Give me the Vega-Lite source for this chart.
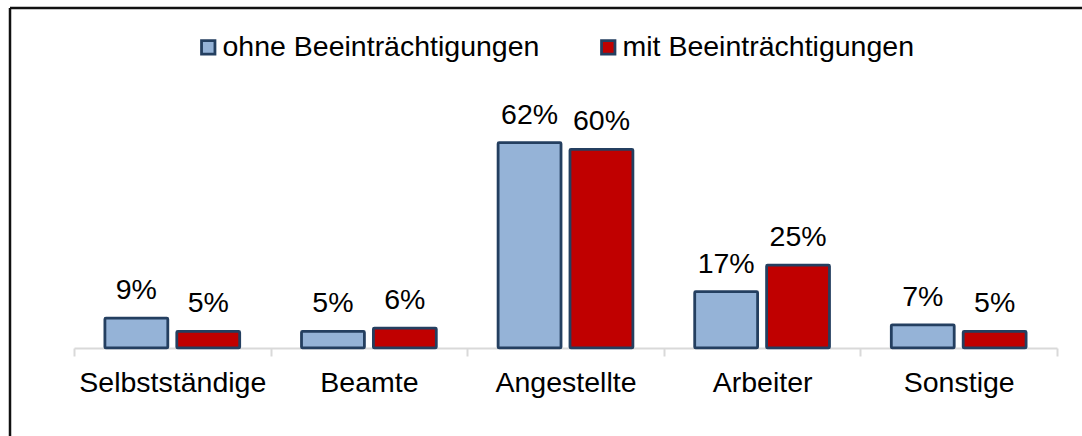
{
  "$schema": "https://vega.github.io/schema/vega-lite/v6.json",
  "width": 1072,
  "height": 428,
  "autosize": "none",
  "padding": {"left": 10, "top": 8, "right": 0, "bottom": 0},
  "background": "white",
  "config": {
    "view": {"stroke": "#111111", "strokeWidth": 2.5, "strokeDash": [1072, 1500, 428, 0]},
    "font": "Liberation Sans",
    "text": {"font": "Liberation Sans"}
  },
  "data": {
    "values": [
      {"kategorie": "Selbstständige", "gruppe": "ohne Beeinträchtigungen", "anteil": 0.09},
      {"kategorie": "Selbstständige", "gruppe": "mit Beeinträchtigungen", "anteil": 0.05},
      {"kategorie": "Beamte", "gruppe": "ohne Beeinträchtigungen", "anteil": 0.05},
      {"kategorie": "Beamte", "gruppe": "mit Beeinträchtigungen", "anteil": 0.06},
      {"kategorie": "Angestellte", "gruppe": "ohne Beeinträchtigungen", "anteil": 0.62},
      {"kategorie": "Angestellte", "gruppe": "mit Beeinträchtigungen", "anteil": 0.60},
      {"kategorie": "Arbeiter", "gruppe": "ohne Beeinträchtigungen", "anteil": 0.17},
      {"kategorie": "Arbeiter", "gruppe": "mit Beeinträchtigungen", "anteil": 0.25},
      {"kategorie": "Sonstige", "gruppe": "ohne Beeinträchtigungen", "anteil": 0.07},
      {"kategorie": "Sonstige", "gruppe": "mit Beeinträchtigungen", "anteil": 0.05}
    ]
  },
  "encoding": {
    "x": {
      "field": "kategorie",
      "type": "nominal",
      "sort": ["Selbstständige", "Beamte", "Angestellte", "Arbeiter", "Sonstige"],
      "scale": {"range": [64, 1047], "paddingInner": 0, "paddingOuter": 0},
      "axis": {
        "orient": "bottom",
        "offset": -88,
        "title": null,
        "labelAngle": 0,
        "labelFont": "Liberation Sans",
        "labelFontSize": 28.5,
        "labelColor": "#000000",
        "labelPadding": 12,
        "labelLimit": 400,
        "domain": true,
        "domainColor": "#D9D9D9",
        "domainWidth": 2,
        "ticks": true,
        "tickBand": "extent",
        "tickColor": "#D9D9D9",
        "tickWidth": 2,
        "tickSize": 8,
        "grid": false
      }
    },
    "xOffset": {
      "field": "gruppe",
      "type": "nominal",
      "sort": ["ohne Beeinträchtigungen", "mit Beeinträchtigungen"],
      "scale": {"paddingInner": 0.125, "paddingOuter": 0.43}
    },
    "y": {
      "field": "anteil",
      "type": "quantitative",
      "scale": {"domain": [-0.266, 1.027], "nice": false, "zero": false},
      "axis": null
    }
  },
  "layer": [
    {
      "mark": {"type": "bar", "stroke": "#243F60", "strokeWidth": 2.8, "cornerRadius": 1},
      "encoding": {
        "y2": {"datum": 0},
        "color": {
          "field": "gruppe",
          "type": "nominal",
          "scale": {
            "domain": ["ohne Beeinträchtigungen", "mit Beeinträchtigungen"],
            "range": ["#95B3D7", "#C00000"]
          },
          "legend": {
            "title": null,
            "orient": "none",
            "direction": "horizontal",
            "legendX": 184,
            "legendY": 25,
            "padding": 0,
            "symbolType": "square",
            "symbolSize": 180,
            "symbolStrokeColor": "#243F60",
            "symbolStrokeWidth": 2.8,
            "symbolOpacity": 1,
            "labelFont": "Liberation Sans",
            "labelFontSize": 28.5,
            "labelColor": "#000000",
            "labelOffset": 0,
            "labelLimit": 500,
            "columnPadding": 54
          }
        }
      }
    },
    {
      "mark": {"type": "text", "baseline": "alphabetic", "dy": -19, "fontSize": 28.5, "color": "#000000", "font": "Liberation Sans"},
      "encoding": {
        "text": {"field": "anteil", "type": "quantitative", "format": ".0%"}
      }
    }
  ]
}
